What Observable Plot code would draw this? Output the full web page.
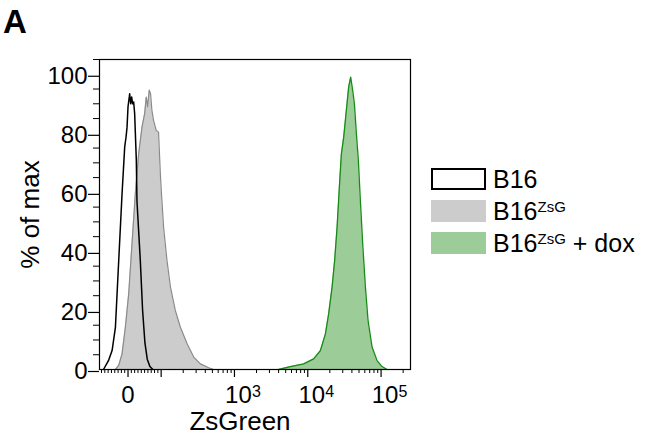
<!DOCTYPE html>
<html>
<head>
<meta charset="utf-8">
<script src="https://cdn.jsdelivr.net/npm/d3@7"></script>
<script src="https://cdn.jsdelivr.net/npm/@observablehq/plot@0.6"></script>
<style>
  html, body { margin: 0; padding: 0; background: #fff; }
  #fig { position: relative; width: 649px; height: 438px; font-family: 'Liberation Sans', Arial, sans-serif; color: #000; }
  #fig svg { position: absolute; left: 0; top: 0; }
  #panel { position: absolute; left: 3px; top: 5px; font-size: 33px; line-height: 33px; font-weight: bold; }
  #legend { position: absolute; left: 431px; top: 163px; font-size: 25px; }
  .row { display: flex; align-items: center; height: 32px; }
  .sw { width: 55px; height: 22px; box-sizing: border-box; margin-right: 7px; }
  .sup { font-size: 15px; position: relative; top: -8px; vertical-align: baseline; }
</style>
</head>
<body>
<div id="fig">
  <div id="panel">A</div>
  <div id="legend"></div>
</div>
<script>
// ---- data (x = ZsGreen intensity, y = % of max) ----
const b16X = [-74, -59, -48, -38, -28, -18, -10, -6, -3, 0, 5, 8, 11, 14, 17, 20, 25, 27, 37, 44, 51, 58, 66, 75];
const b16Y = [0, 3, 6.4, 14.3, 37, 59.5, 75.4, 78.7, 82, 89, 93.4, 90, 92.3, 90, 90.6, 86.7, 71, 57, 37, 20, 9, 3.5, 1, 0];

const zsgX = [-38, -28, -18, -8, 2, 12, 22, 32, 42, 50, 55, 59, 64, 68, 72, 77, 85, 92, 97.5, 101, 108, 120, 134, 156, 183, 226, 278, 343, 445, 520];
const zsgY = [0, 1.4, 5.3, 14.3, 25.6, 42.6, 59.5, 73, 82, 86.6, 92.3, 89, 94.6, 93.4, 87.8, 84.4, 81, 80.4, 66.3, 59.5, 48.2, 37, 27.9, 20, 14.3, 8.7, 4.2, 1.9, 0.6, 0];

const doxX = [4010, 5790, 8790, 12040, 14860, 17380, 19290, 21450, 23280, 25100, 26980, 28730, 30910, 33600, 36140, 38490, 40950, 43280, 46050, 49010, 52160, 56140, 61130, 66430, 75370, 88170, 103100, 120900];
const doxY = [0, 1, 1.9, 3.6, 6.4, 12, 18.9, 27.9, 37, 48.2, 61.8, 73, 78.7, 87.8, 95.7, 99, 94.6, 90, 79.9, 70.8, 57.3, 42.6, 27.9, 16.6, 7.6, 3, 1, 0];

const seriesNames = ["B16", "B16ZsG", "B16ZsG + dox"];

const xMajor = [0, 100, 1000, 10000, 100000];
const xPowTicks = [1000, 10000, 100000];
const xPowExp = ["3", "4", "5"];
const xMinor = [-80, -70, -60, -50, -40, -30, -20, -10, 10, 20, 30, 40, 50, 60, 70, 80, 90,
  200, 300, 400, 500, 600, 700, 800, 900,
  2000, 3000, 4000, 5000, 6000, 7000, 8000, 9000,
  20000, 30000, 40000, 50000, 60000, 70000, 80000, 90000, 200000];
const yMajor = [0, 20, 40, 60, 80, 100];
const yMinor = [5, 10, 15, 25, 30, 35, 45, 50, 55, 65, 70, 75, 85, 90, 95, 105];
const xDomain = [-86, 252000];
const yDomain = [0, 105];

// ---- biexponential display transform (linear near 0, log above) ----
const L = 96;
function biex(v) {
  const a = Math.abs(v);
  const d = a <= L ? a / (L * Math.LN10) : 1 / Math.LN10 + Math.log10(a / L);
  return Math.sign(v) * d;
}

const toRows = (xs, ys) => xs.map((x, i) => ({x, y: ys[i]}));
const b16 = toRows(b16X, b16Y);
const zsg = toRows(zsgX, zsgY);
const dox = toRows(doxX, doxY);

const fx = d => biex(d.x);
const expMap = new Map(xPowTicks.map((v, i) => [biex(v), xPowExp[i]]));

const chart = Plot.plot({
  width: 649, height: 438,
  marginLeft: 99, marginRight: 239, marginTop: 59, marginBottom: 69,
  style: {fontFamily: "'Liberation Sans', Arial, sans-serif", background: "transparent", color: "#000", overflow: "visible"},
  x: {type: "linear", domain: xDomain.map(biex)},
  y: {domain: yDomain},
  marks: [
    Plot.areaY(dox, {x: fx, y: "y", fill: "#9ccc97"}),
    Plot.lineY(dox, {x: fx, y: "y", stroke: "#178a17", strokeWidth: 1.3}),
    Plot.areaY(zsg, {x: fx, y: "y", fill: "#cccccc"}),
    Plot.lineY(zsg, {x: fx, y: "y", stroke: "#8a8a8a", strokeWidth: 1.2}),
    Plot.lineY(b16, {x: fx, y: "y", stroke: "#000", strokeWidth: 1.5}),
    Plot.axisX({ticks: xMinor.map(biex), tickSize: 4, tickFormat: () => "", label: null, strokeWidth: 1}),
    Plot.axisX({ticks: xMajor.map(biex), tickSize: 8, tickFormat: () => "", label: null, strokeWidth: 1.2}),
    Plot.axisX({ticks: [biex(0)], tickSize: 0, tickPadding: 16, fontSize: 24, tickFormat: () => "0", label: null}),
    Plot.axisX({ticks: xPowTicks.map(biex), tickSize: 0, tickPadding: 16, fontSize: 24, dx: 4, tickFormat: () => "10", label: null}),
    Plot.axisX({ticks: xPowTicks.map(biex), tickSize: 0, tickPadding: 16, fontSize: 16, dx: 22, tickFormat: t => expMap.get(t), label: null}),
    Plot.axisY({ticks: yMinor, tickSize: 6, tickFormat: () => "", label: null, strokeWidth: 1}),
    Plot.axisY({ticks: yMajor, tickSize: 11, tickPadding: 1, fontSize: 24, dy: 2, label: null, strokeWidth: 1.2}),
    Plot.frame({stroke: "#000", strokeWidth: 1.2}),
    Plot.text(["ZsGreen"], {frameAnchor: "bottom", dy: 60, dx: -15, fontSize: 26, fill: "#000"}),
    Plot.text(["% of max"], {frameAnchor: "left", textAnchor: "middle", rotate: -90, dx: -69, fontSize: 26, fill: "#000"})
  ]
});
document.getElementById("fig").appendChild(chart);

// ---- legend ----
const swatchStyles = [
  "border:2px solid #000;background:#fff",
  "background:#cccccc",
  "background:#9ccc97"
];
const legend = document.getElementById("legend");
seriesNames.forEach((name, i) => {
  const row = document.createElement("div");
  row.className = "row";
  const sw = document.createElement("span");
  sw.className = "sw";
  sw.setAttribute("style", swatchStyles[i]);
  const lab = document.createElement("span");
  const m = name.match(/^B16(ZsG)?(.*)$/);
  lab.append("B16");
  if (m[1]) { const s = document.createElement("span"); s.className = "sup"; s.textContent = m[1]; lab.append(s); }
  if (m[2]) lab.append(m[2]);
  row.append(sw, lab);
  legend.append(row);
});
</script>
</body>
</html>
